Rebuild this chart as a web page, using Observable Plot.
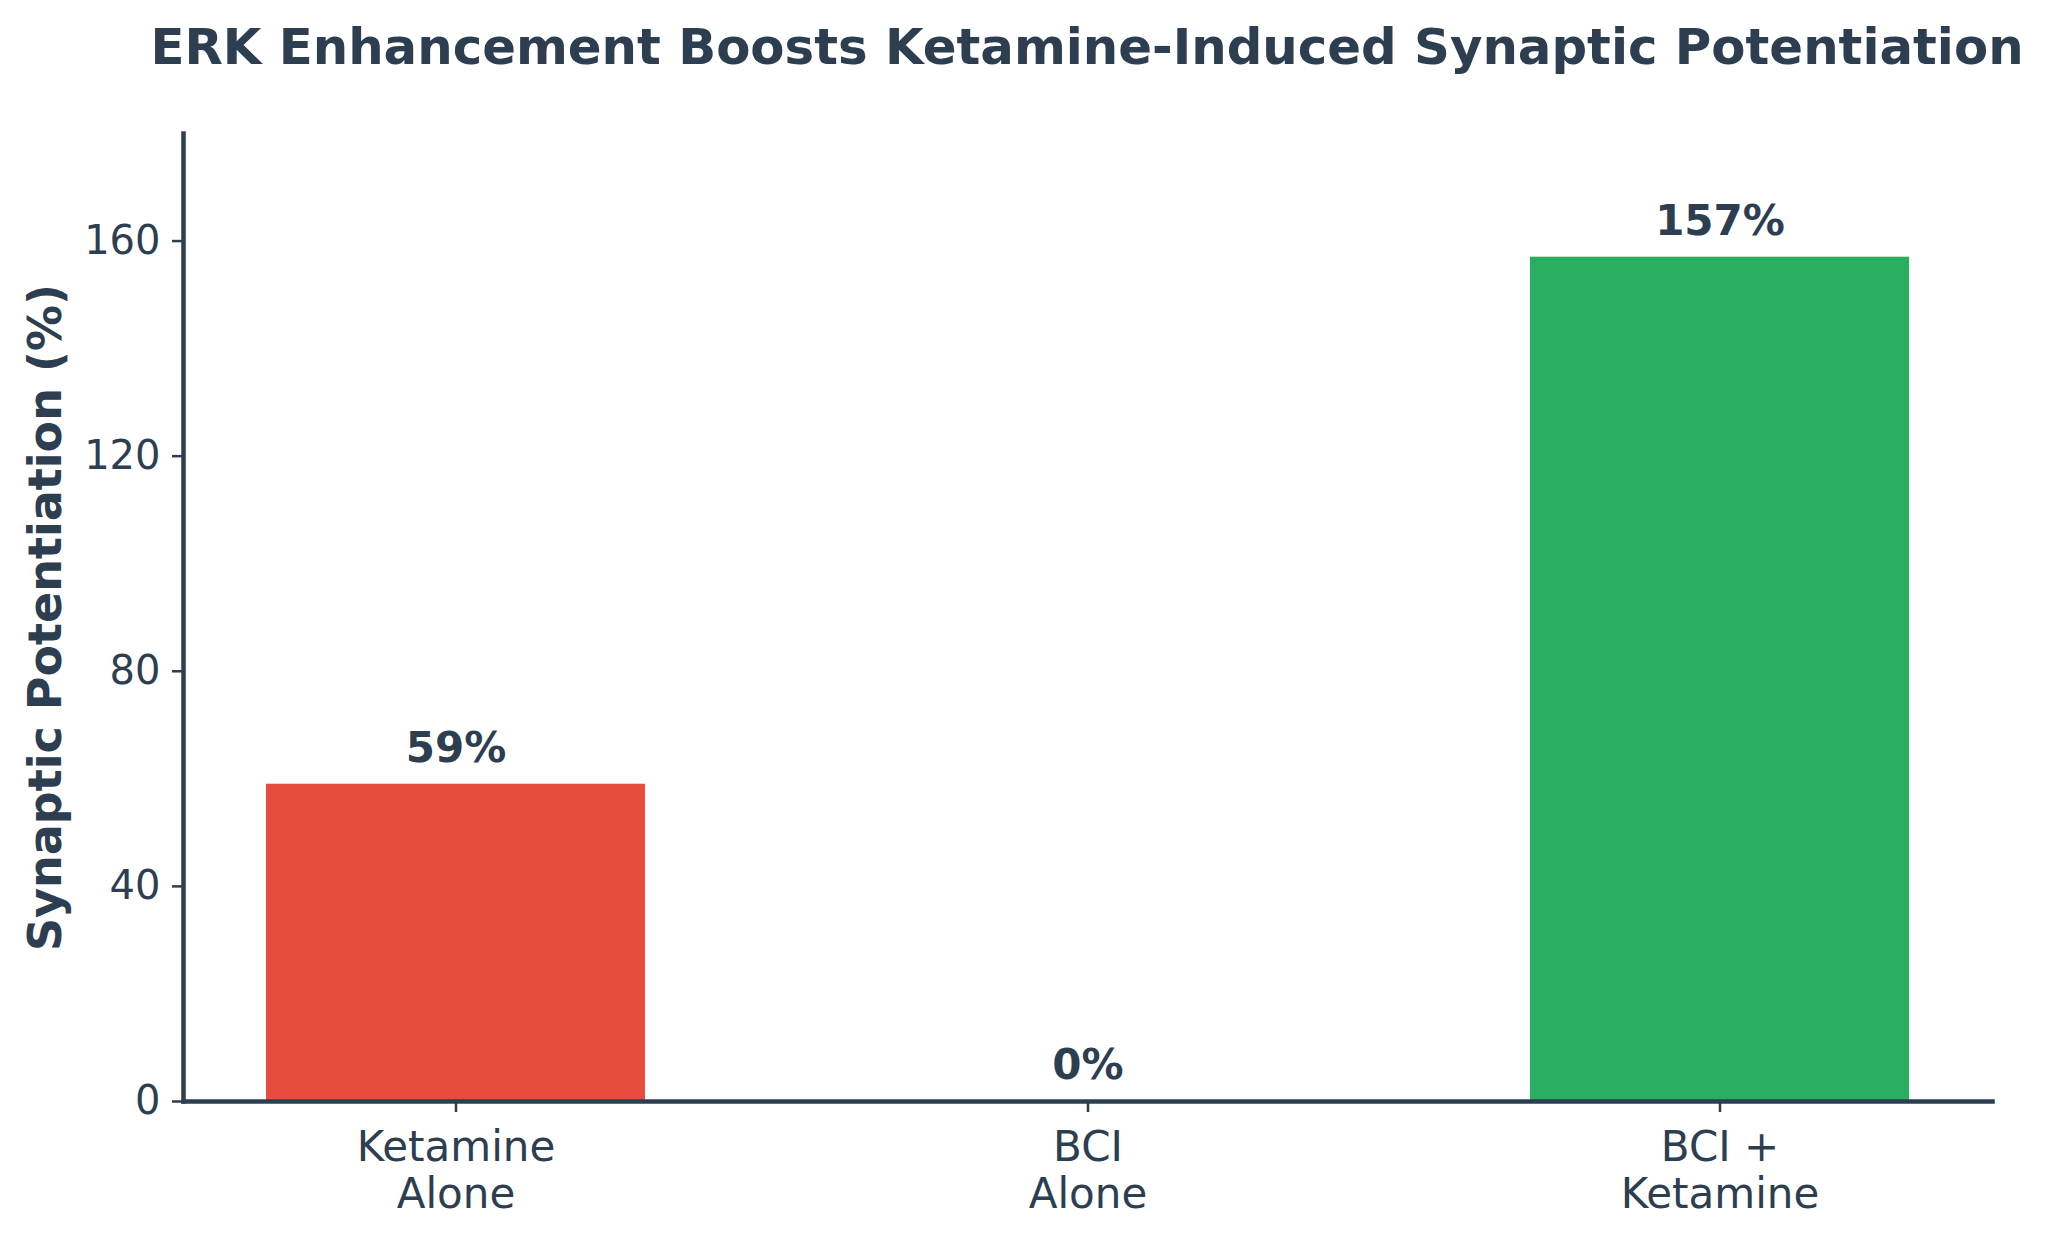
<!DOCTYPE html>
<html>
<head>
<meta charset="utf-8">
<script src="https://cdn.jsdelivr.net/npm/d3@7"></script>
<script src="https://cdn.jsdelivr.net/npm/@observablehq/plot@0.6"></script>
<style>
  html, body { margin: 0; padding: 0; background: #ffffff; }
  #wrap { position: relative; width: 2048px; height: 1241px; font-family: "DejaVu Sans", sans-serif; color: #2c3e50; }
  #title { position: absolute; top: 22px; left: 1087px; transform: translateX(-50%); white-space: nowrap;
           font-size: 49.8px; line-height: 50px; font-weight: bold; color: #2c3e50; }
  #chart { position: absolute; top: 100px; left: 0; }
</style>
</head>
<body>
<div id="wrap">
  <div id="title">ERK Enhancement Boosts Ketamine-Induced Synaptic Potentiation</div>
  <div id="chart"></div>
</div>
<script>
const categories = ["Ketamine\nAlone", "BCI\nAlone", "BCI +\nKetamine"];
const values = [59, 0, 157];
const colors = ["#e74c3c", "#95a5a6", "#27ae60"];
const valueLabels = ["59%", "0%", "157%"];
const yTicks = [0, 40, 80, 120, 160];
const yLabel = "Synaptic Potentiation (%)";

const data = categories.map((c, i) => ({category: c, value: values[i], color: colors[i], label: valueLabels[i]}));
const ink = "#2c3e50";

const chart = Plot.plot({
  width: 2048,
  height: 1141,
  marginTop: 33,
  marginBottom: 140,
  marginLeft: 183,
  marginRight: 56,
  style: {fontFamily: "DejaVu Sans, sans-serif", color: ink, background: "white"},
  x: {domain: categories, paddingInner: 0.4, paddingOuter: 0.13, label: null},
  y: {domain: [0, 180], label: null},
  marks: [
    Plot.barY(data, {x: "category", y: "value", fill: "color"}),
    Plot.text(data, {x: "category", y: "value", text: "label", dy: -36, fontSize: 42, fontWeight: "bold", fill: ink}),
    Plot.axisY({ticks: yTicks, tickSize: 11, tickPadding: 12, fontSize: 40, stroke: ink, strokeWidth: 2.5, fill: ink, label: null}),
    Plot.axisX({tickSize: 11, tickPadding: 15, fontSize: 42, lineHeight: 1.12, stroke: ink, strokeWidth: 2.5, fill: ink, label: null}),
    Plot.frame({anchor: "left", stroke: ink, strokeWidth: 4.5}),
    Plot.frame({anchor: "bottom", stroke: ink, strokeWidth: 4.5}),
    Plot.text([yLabel], {frameAnchor: "left", textAnchor: "middle", dx: -137, rotate: -90, fontSize: 46, fontWeight: "bold", fill: ink})
  ]
});
document.getElementById("chart").appendChild(chart);
</script>
</body>
</html>
